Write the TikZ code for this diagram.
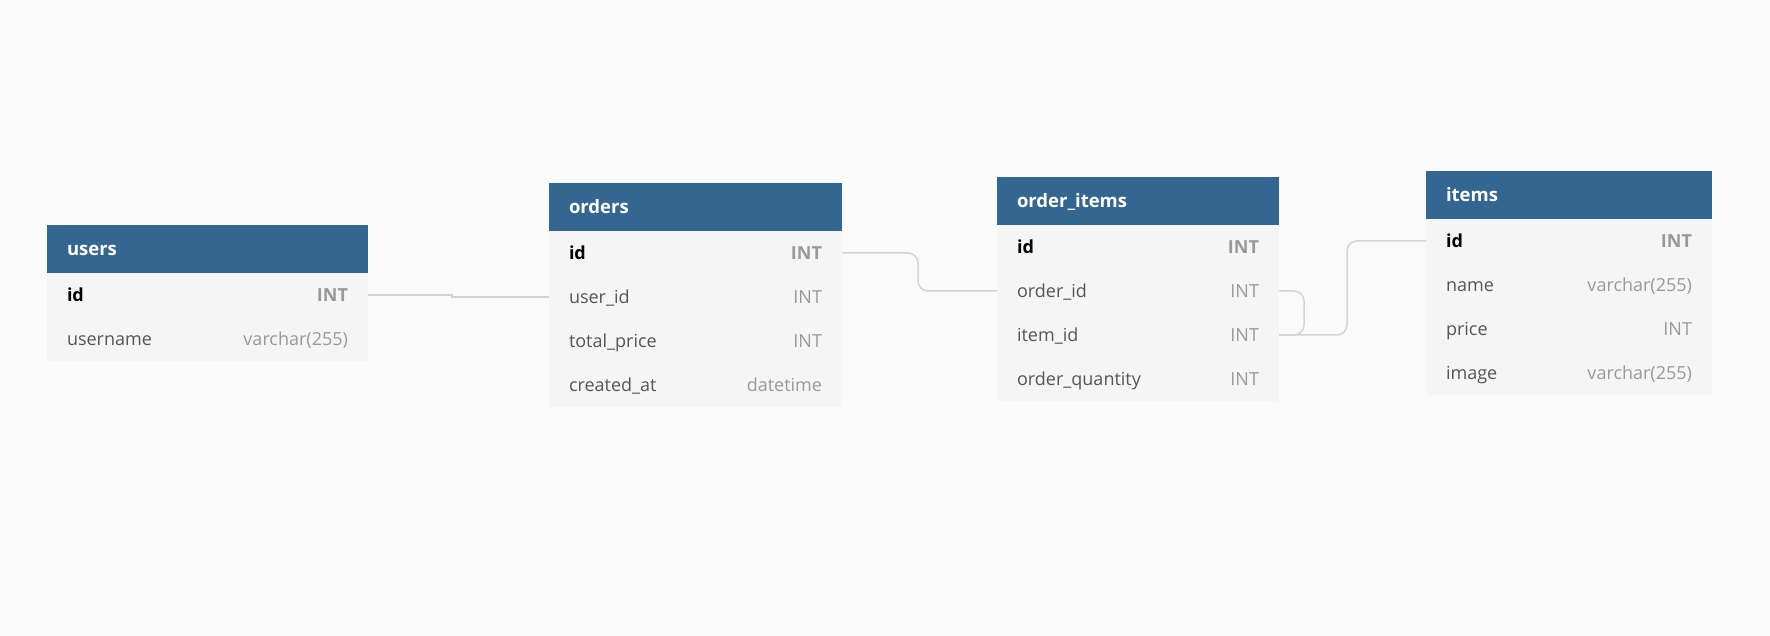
\documentclass[tikz,border=0pt]{standalone}
\usepackage{fontspec}
\setmainfont{Open Sans}
\usetikzlibrary{positioning}
\definecolor{bgcol}{HTML}{FAFAFA}
\definecolor{hdrblue}{HTML}{336791}
\definecolor{rowfill}{HTML}{F5F5F5}
\definecolor{namegray}{HTML}{555555}
\definecolor{typegray}{HTML}{999999}
\definecolor{linkgray}{HTML}{D4D4D4}
\newcommand{\rowstrut}{\rule[-5pt]{0pt}{23.4pt}}
\newcommand{\fieldrow}[2]{\hbox to\hsize{\rowstrut#1\hfill\textcolor{typegray}{#2}}}
\newcommand{\keyrow}[2]{\hbox to\hsize{\rowstrut\textbf{#1}\hfill\textcolor{typegray}{\textbf{#2}}}}

\begin{document}
\begin{tikzpicture}
  [x=1pt,y=-1pt,
   every node/.style={inner xsep=20pt,inner ysep=0pt,outer sep=0pt,font=\fontsize{18}{22}\selectfont},
   hdr/.style={anchor=north west,fill=hdrblue,text=white,minimum height=48pt,font=\fontsize{18.5}{22}\selectfont\bfseries},
   fld/.style={fill=rowfill,text=namegray,minimum height=44pt,below=0pt of #1},
   key/.style={fld=#1,text=black},
   link/.style={draw=linkgray,line width=1.5pt}]
  \fill[bgcol] (0,0) rectangle (1770,636);

  % users
  \begin{scope}[text width=281pt]
  \node[hdr] (users) at (47,225) {\rowstrut users};
  \node[key=users] (users-id) {\keyrow{id}{INT}};
  \node[fld=users-id] (users-username) {\fieldrow{username}{varchar(255)}};
  \end{scope}

  % orders
  \begin{scope}[text width=253pt]
  \node[hdr] (orders) at (549,183) {\rowstrut orders};
  \node[key=orders] (orders-id) {\keyrow{id}{INT}};
  \node[fld=orders-id] (orders-userid) {\fieldrow{user\_id}{INT}};
  \node[fld=orders-userid] (orders-totalprice) {\fieldrow{total\_price}{INT}};
  \node[fld=orders-totalprice] (orders-createdat) {\fieldrow{created\_at}{datetime}};
  \end{scope}

  % order_items
  \begin{scope}[text width=242pt]
  \node[hdr] (oitems) at (997,177) {\rowstrut order\_items};
  \node[key=oitems] (oitems-id) {\keyrow{id}{INT}};
  \node[fld=oitems-id] (oitems-orderid) {\fieldrow{order\_id}{INT}};
  \node[fld=oitems-orderid] (oitems-itemid) {\fieldrow{item\_id}{INT}};
  \node[fld=oitems-itemid] (oitems-quantity) {\fieldrow{order\_quantity}{INT}};
  \end{scope}

  % items
  \begin{scope}[text width=246pt]
  \node[hdr] (items) at (1426,171) {\rowstrut items};
  \node[key=items] (items-id) {\keyrow{id}{INT}};
  \node[fld=items-id] (items-name) {\fieldrow{name}{varchar(255)}};
  \node[fld=items-name] (items-price) {\fieldrow{price}{INT}};
  \node[fld=items-price] (items-image) {\fieldrow{image}{varchar(255)}};
  \end{scope}

  \foreach \from/\to/\d/\r in {users-id.east/orders-userid.west/84/0,
      orders-id.east/oitems-orderid.west/76/10,
      oitems-orderid.east/oitems-itemid.east/25/10,
      oitems-itemid.east/items-id.west/68/10}
  \draw[link,rounded corners=\r pt] (\from) -- ++(\d,0) |- (\to);
\end{tikzpicture}
\end{document}
